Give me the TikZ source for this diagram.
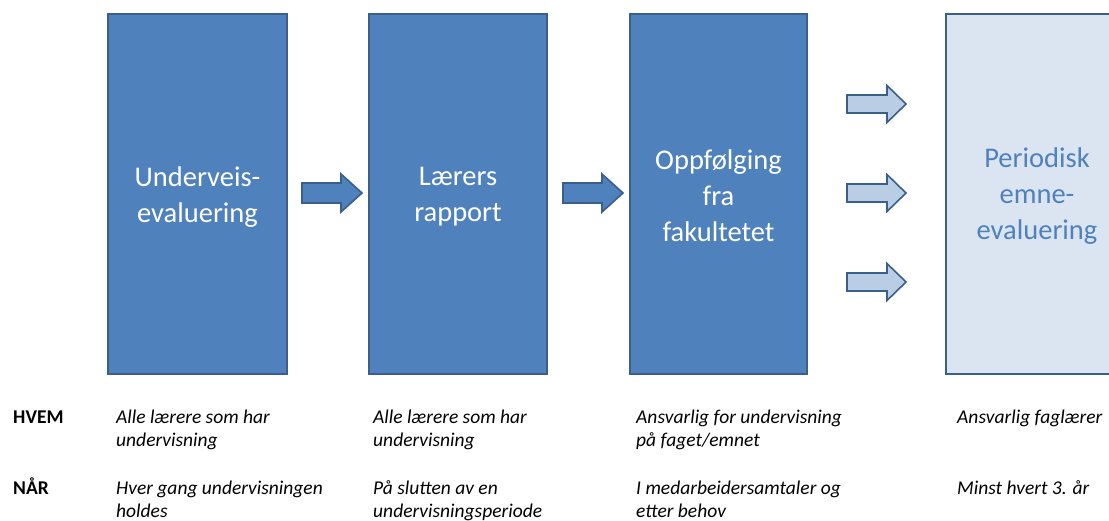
\documentclass[tikz,border=0pt]{standalone}
\usepackage{fontspec}
\setmainfont{Carlito}
\definecolor{boxfill}{HTML}{4F81BD}
\definecolor{boxline}{HTML}{3A5F8B}
\definecolor{lightfill}{HTML}{DBE5F1}
\definecolor{arrowlight}{HTML}{B9CDE5}
\begin{document}
\begin{tikzpicture}[x=1pt,y=-1pt,
  stagebox/.style={draw=boxline,line width=2pt,fill=boxfill,
    minimum width=179pt,minimum height=360pt,inner sep=0pt,anchor=north west},
  lightbox/.style={stagebox,fill=lightfill},
  stagetext/.style={text=white,align=center,inner sep=0pt,font=\fontsize{28.5}{36}\selectfont},
  lighttext/.style={stagetext,text=boxfill},
  darkarrow/.style={draw=boxline,line width=1.6pt,fill=boxfill,line join=miter},
  lightarrow/.style={draw=boxline,line width=1.6pt,fill=arrowlight,line join=miter},
  rowlabel/.style={anchor=base west,font=\fontsize{19.5}{23}\selectfont\bfseries,inner sep=0pt},
  celltext/.style={anchor=base west,align=left,font=\fontsize{19.5}{23}\selectfont\itshape,inner sep=0pt}]
\useasboundingbox (0,0) rectangle (1109,520);
\node[stagebox] (b1) at (107,13) {};
\node[stagebox,minimum width=178pt] (b2) at (368,13) {};
\node[stagebox,minimum width=177pt] (b3) at (629,13) {};
\node[lightbox,minimum width=182pt] (b4) at (945,13) {};
\node[stagetext] (t1) at ([yshift=-3pt]b1.center) {Underveis-\\evaluering};
\node[stagetext] (t2) at ([yshift=-3pt]b2.center) {Lærers\\rapport};
\node[stagetext] (t3) at ([yshift=-2pt]b3.center) {Oppfølging\\fra\\fakultetet};
\node[lighttext] (t4) at ([yshift=-2pt]b4.center) {Periodisk\\emne-\\evaluering};
% arrows
\draw[darkarrow] (302,183) -- (341,183) -- (341,174) -- (362,193) -- (341,212) -- (341,203) -- (302,203) -- cycle;
\draw[darkarrow] (563,183) -- (602,183) -- (602,174) -- (623,193) -- (602,212) -- (602,203) -- (563,203) -- cycle;
\foreach \c in {104,193,282}{
  \draw[lightarrow] (847,\c-9) -- (887,\c-9) -- (887,\c-18.5) -- (906,\c) -- (887,\c+18.5) -- (887,\c+9) -- (847,\c+9) -- cycle;
}
% table (multi-line cells are placed by the baseline of their last line)
\node[rowlabel] (hvem) at (13,423) {HVEM};
\node[rowlabel] (naar) at (13,494) {NÅR};
\node[celltext] (h1) at (116,446) {Alle lærere som har\\undervisning};
\node[celltext] (h2) at (373,446) {Alle lærere som har\\undervisning};
\node[celltext] (h3) at (636,446) {Ansvarlig for undervisning\\på faget/emnet};
\node[celltext] (h4) at (957,423) {Ansvarlig faglærer};
\node[celltext] (n1) at (116,517) {Hver gang undervisningen\\holdes};
\node[celltext] (n2) at (373,517) {På slutten av en\\undervisningsperiode};
\node[celltext] (n3) at (636,517) {I medarbeidersamtaler og\\etter behov};
\node[celltext] (n4) at (957,494) {Minst hvert 3. år};
\end{tikzpicture}
\end{document}
